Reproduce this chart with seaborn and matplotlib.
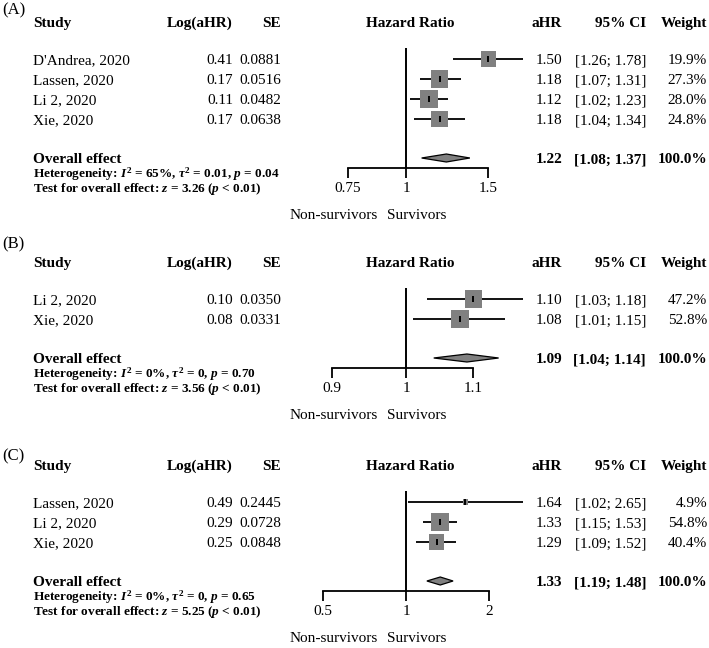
import numpy as np
import pandas as pd
import matplotlib
matplotlib.use("Agg")
import matplotlib.pyplot as plt
import seaborn as sns
from matplotlib.ticker import NullLocator

# --- values ---
# (A)
a_study = ["D'Andrea, 2020", "Lassen, 2020", "Li 2, 2020", "Xie, 2020"]
a_loghr = [0.41, 0.17, 0.11, 0.17]
a_se = [0.0881, 0.0516, 0.0482, 0.0638]
a_ahr = [1.50, 1.18, 1.12, 1.18]
a_lo = [1.26, 1.07, 1.02, 1.04]
a_hi = [1.78, 1.31, 1.23, 1.34]
a_weight = [19.9, 27.3, 28.0, 24.8]
a_overall = [1.22, 1.08, 1.37]          # estimate, lower, upper
a_het = ["65%", "0.01", "0.04"]          # I2, tau2, p
a_z = "3.26"
a_ticks = [0.75, 1, 1.5]
a_ticklabels = ["0.75", "1", "1.5"]

# (B)
b_study = ["Li 2, 2020", "Xie, 2020"]
b_loghr = [0.10, 0.08]
b_se = [0.0350, 0.0331]
b_ahr = [1.10, 1.08]
b_lo = [1.03, 1.01]
b_hi = [1.18, 1.15]
b_weight = [47.2, 52.8]
b_overall = [1.09, 1.04, 1.14]
b_het = ["0%", "0", "0.70"]
b_z = "3.56"
b_ticks = [0.9, 1, 1.1]
b_ticklabels = ["0.9", "1", "1.1"]

# (C)
c_study = ["Lassen, 2020", "Li 2, 2020", "Xie, 2020"]
c_loghr = [0.49, 0.29, 0.25]
c_se = [0.2445, 0.0728, 0.0848]
c_ahr = [1.64, 1.33, 1.29]
c_lo = [1.02, 1.15, 1.09]
c_hi = [2.65, 1.53, 1.52]
c_weight = [4.9, 54.8, 40.4]
c_overall = [1.33, 1.19, 1.48]
c_het = ["0%", "0", "0.65"]
c_z = "5.25"
c_ticks = [0.5, 1, 2]
c_ticklabels = ["0.5", "1", "2"]

# --- style ---
sns.set_theme(style="white")
plt.rcParams['font.family'] = ['Liberation Serif', 'DejaVu Serif']
plt.rcParams['mathtext.fontset'] = 'custom'
plt.rcParams['mathtext.rm'] = 'Liberation Serif:bold'
plt.rcParams['mathtext.it'] = 'Liberation Serif:italic:bold'
plt.rcParams['mathtext.bf'] = 'Liberation Serif:bold'

W, H = 709, 648
fig = plt.figure(figsize=(W / 100, H / 100), dpi=100)
bg = fig.add_axes([0, 0, 1, 1])   # pixel coordinates for the table text
bg.set_xlim(0, W)
bg.set_ylim(H, 0)
bg.axis('off')

# column positions (pixels)
STUDY_L, LOG_R, SE_R = 33, 233, 281
HR_C, AHR_R, CI_R, W_R = 410, 562, 646, 707
REF_PX, RIGHT_PX = 406, 523      # x=1 and right end of the widest CI
X0, X1 = 290, 560                # horizontal extent of the forest axes
SQ_MAX = 18                      # side of the heaviest square, px
GREY = '#808080'


def put(x, y, s, ha='left', size=11, weight='normal'):
    # y is the visual centre of the line; shift to the baseline
    bg.text(x, y + 0.33 * size * 100 / 72, s, ha=ha, va='baseline',
            fontsize=size, fontweight=weight, color='black')


def draw_panel(tag, tag_y, head_y, study, loghr, se, ahr, lo, hi, weight,
               overall, het, z, ticks, ticklabels):
    df = pd.DataFrame(dict(study=study, loghr=loghr, se=se, ahr=ahr,
                           lo=lo, hi=hi, weight=weight))
    df['y'] = head_y + 37 + 20 * np.arange(len(df))
    side = SQ_MAX * np.sqrt(df['weight'] / df['weight'].max())
    df['area'] = (side * 0.72) ** 2
    y_ov = df['y'].iloc[-1] + 39
    y_axis = y_ov + 10

    # panel letter + headers
    put(2, tag_y, tag, size=12)
    put(STUDY_L, head_y, "Study", weight='bold')
    put(LOG_R, head_y, "Log(aHR)", ha='right', weight='bold')
    put(SE_R, head_y, "SE", ha='right', weight='bold')
    put(HR_C, head_y, "Hazard Ratio", ha='center', weight='bold')
    put(AHR_R, head_y, "aHR", ha='right', weight='bold')
    put(CI_R, head_y, "95% CI", ha='right', weight='bold')
    put(W_R, head_y, "Weight", ha='right', weight='bold')

    # study rows
    for _, r in df.iterrows():
        put(STUDY_L, r['y'], r['study'])
        put(LOG_R, r['y'], f"{r['loghr']:.2f}", ha='right')
        put(SE_R, r['y'], f"{r['se']:.4f}", ha='right')
        put(AHR_R, r['y'], f"{r['ahr']:.2f}", ha='right')
        put(CI_R, r['y'], f"[{r['lo']:.2f}; {r['hi']:.2f}]", ha='right')
        put(W_R, r['y'], f"{r['weight']:.1f}%", ha='right')

    # overall effect rows
    put(STUDY_L, y_ov, "Overall effect", weight='bold')
    put(AHR_R, y_ov, f"{overall[0]:.2f}", ha='right', weight='bold')
    put(CI_R, y_ov, f"[{overall[1]:.2f}; {overall[2]:.2f}]", ha='right', weight='bold')
    put(W_R, y_ov, "100.0%", ha='right', weight='bold')
    put(STUDY_L, y_ov + 15,
        rf"Heterogeneity: $I^2$ = {het[0]}, $\tau^2$ = {het[1]}, $p$ = {het[2]}",
        size=9.5, weight='bold')
    put(STUDY_L, y_ov + 30,
        rf"Test for overall effect: $z$ = {z} ($p$ < 0.01)",
        size=9.5, weight='bold')

    # forest axes on a log scale, 1 at REF_PX, widest CI ends at RIGHT_PX
    k = (RIGHT_PX - REF_PX) / np.log(df['hi'].max())
    ax = fig.add_axes([X0 / W, 0, (X1 - X0) / W, 1])
    ax.patch.set_visible(False)
    ax.set_xscale('log')
    ax.set_xlim(np.exp((X0 - REF_PX) / k), np.exp((X1 - REF_PX) / k))
    ax.set_ylim(H, 0)

    ax.hlines(df['y'], df['lo'], df['hi'], color='black', lw=1.3, zorder=2)
    sns.scatterplot(data=df, x='ahr', y='y', s=df['area'], marker='s',
                    color=GREY, edgecolor='none', linewidth=0, legend=False,
                    ax=ax, zorder=3)
    ax.plot(df['ahr'], df['y'], ls='none', marker='|', ms=4, mew=1.4,
            color='black', zorder=4)

    est, low, upp = overall
    ax.fill([low, est, upp, est], [y_ov, y_ov - 4, y_ov, y_ov + 4],
            facecolor=GREY, edgecolor='black', lw=0.9, zorder=3)

    # reference line at 1
    ax.vlines(1, df['y'].iloc[0] - 11, y_axis, color='black', lw=1.4, zorder=1)

    # x axis drawn only between the outer ticks
    for s in ['top', 'left', 'right']:
        ax.spines[s].set_visible(False)
    ax.spines['bottom'].set_position(('data', y_axis))
    ax.spines['bottom'].set_bounds(ticks[0], ticks[-1])
    ax.spines['bottom'].set_linewidth(1.3)
    ax.spines['bottom'].set_color('black')
    ax.set_xticks(ticks)
    ax.set_xticklabels(ticklabels)
    ax.xaxis.set_minor_locator(NullLocator())
    ax.tick_params(axis='x', bottom=True, direction='out', length=7.2,
                   width=1.3, color='black', labelsize=11, pad=3,
                   labelcolor='black')
    ax.set_yticks([])
    ax.set_xlabel('')
    ax.set_ylabel('')

    put(378, y_axis + 46, "Non-survivors", ha='right')
    put(387, y_axis + 46, "Survivors")


draw_panel("(A)", 9, 22, a_study, a_loghr, a_se, a_ahr, a_lo, a_hi, a_weight,
           a_overall, a_het, a_z, a_ticks, a_ticklabels)
draw_panel("(B)", 243, 262, b_study, b_loghr, b_se, b_ahr, b_lo, b_hi, b_weight,
           b_overall, b_het, b_z, b_ticks, b_ticklabels)
draw_panel("(C)", 455, 465, c_study, c_loghr, c_se, c_ahr, c_lo, c_hi, c_weight,
           c_overall, c_het, c_z, c_ticks, c_ticklabels)

fig.savefig("out.png", dpi=100)
